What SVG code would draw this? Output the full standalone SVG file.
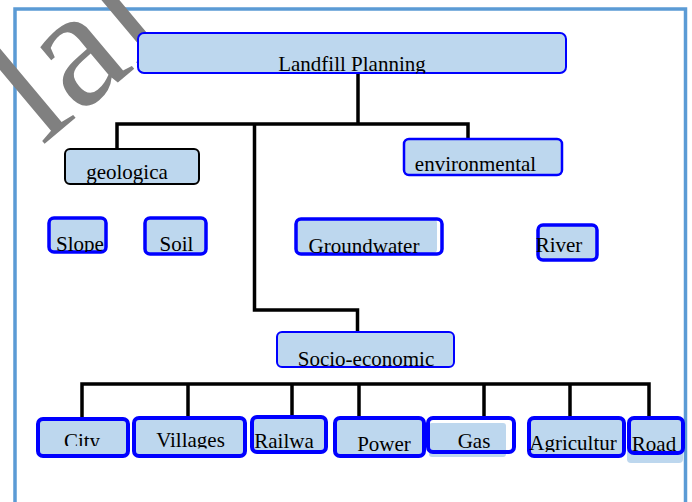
<svg xmlns="http://www.w3.org/2000/svg" width="692" height="502" viewBox="0 0 692 502">
<defs>
<style>
.fill{fill:#bdd7ee;stroke:none}
.bb{fill:none;stroke:#0000ff}
.bk{fill:none;stroke:#000000;stroke-width:2}
.t{font-family:"Liberation Serif","Times New Roman",serif;font-size:21px;fill:#000000;text-anchor:middle}
.con{fill:none;stroke:#000000;stroke-width:3.5;stroke-linejoin:miter}
</style>
<clipPath id="cL"><rect x="130" y="30" width="440" height="43.5"/></clipPath>
<clipPath id="cG"><rect x="60" y="145" width="145" height="40"/></clipPath>
<clipPath id="cE"><rect x="400" y="135" width="170" height="40"/></clipPath>
<clipPath id="cSl"><rect x="40" y="210" width="75" height="42"/></clipPath>
<clipPath id="cSo"><rect x="140" y="210" width="75" height="42"/></clipPath>
<clipPath id="cGw"><rect x="290" y="210" width="160" height="43"/></clipPath>
<clipPath id="cSe"><rect x="270" y="325" width="190" height="41"/></clipPath>
<clipPath id="cCi"><rect x="30" y="410" width="105" height="36"/></clipPath>
<clipPath id="cVi"><rect x="130" y="410" width="120" height="38.5"/></clipPath>
<clipPath id="cRa"><rect x="245" y="433" width="90" height="20"/></clipPath>
<clipPath id="cGa"><rect x="420" y="433" width="100" height="20"/></clipPath>
<clipPath id="cAg"><rect x="520" y="432" width="110" height="20"/></clipPath>
</defs>
<rect width="692" height="502" fill="#ffffff"/>

<!-- frame -->
<path d="M15,502 V9 H685.5 V502" fill="none" stroke="#5b9bd5" stroke-width="3.5"/>

<!-- watermark -->
<g id="watermark">
<text transform="translate(42,146) rotate(-40)" font-family="'Liberation Serif',serif" font-size="170" fill="#808080">lal</text>
</g>

<g id="connectors">
<path class="con" d="M358,73 V123"/>
<path class="con" d="M117,151 V124 H468 V141"/>
<path class="con" d="M254.5,123 V310 H357.5 V333"/>
<path class="con" d="M82,418 V384 H649 V418"/>
<path class="con" d="M188,418 V384"/>
<path class="con" d="M292,416 V384"/>
<path class="con" d="M359,418 V384"/>
<path class="con" d="M484,418 V384"/>
<path class="con" d="M570,418 V384"/>
</g>

<g id="n-landfill">
<rect class="fill" x="138" y="33" width="428" height="40" rx="6"/>
<rect class="bb" x="138" y="33" width="428" height="40" rx="6" stroke-width="2"/>
<text class="t" x="352" y="71" clip-path="url(#cL)">Landfill Planning</text>
</g>

<g id="n-geologica">
<rect class="fill" x="65" y="149" width="134" height="35" rx="5"/>
<rect class="bk" x="65" y="149" width="134" height="35" rx="5"/>
<text class="t" x="127" y="179" clip-path="url(#cG)">geologica</text>
</g>

<g id="n-environmental">
<rect class="fill" x="404" y="139" width="158" height="36" rx="5"/>
<rect class="bb" x="404" y="139" width="158" height="36" rx="5" stroke-width="2.5"/>
<text class="t" x="475.5" y="171" clip-path="url(#cE)">environmental</text>
</g>

<g id="n-slope">
<rect class="fill" x="49" y="218" width="57" height="34" rx="5"/>
<rect class="bb" x="49" y="218" width="57" height="34" rx="5" stroke-width="3.5"/>
<text class="t" x="80" y="251" clip-path="url(#cSl)">Slope</text>
</g>

<g id="n-soil">
<rect class="fill" x="145" y="218" width="61" height="36" rx="5"/>
<rect class="bb" x="145" y="218" width="61" height="36" rx="5" stroke-width="3.5"/>
<text class="t" x="176.5" y="251" clip-path="url(#cSo)">Soil</text>
</g>

<g id="n-groundwater">
<rect class="fill" x="297" y="219" width="140" height="34" rx="4"/>
<rect class="bb" x="296" y="219" width="146" height="35" rx="5" stroke-width="3.5"/>
<text class="t" x="364" y="253" clip-path="url(#cGw)">Groundwater</text>
</g>

<g id="n-river">
<rect class="fill" x="538" y="225" width="59" height="35" rx="5"/>
<rect class="bb" x="538" y="225" width="59" height="35" rx="5" stroke-width="3.5"/>
<text class="t" x="559" y="252">River</text>
</g>

<g id="n-socio">
<rect class="fill" x="277" y="332" width="177" height="35" rx="5"/>
<rect class="bb" x="277" y="332" width="177" height="35" rx="5" stroke-width="2"/>
<text class="t" x="366" y="366" clip-path="url(#cSe)">Socio-economic</text>
</g>

<g id="n-city">
<rect class="fill" x="38" y="419" width="90" height="37" rx="5"/>
<rect class="bb" x="38" y="419" width="90" height="37" rx="5" stroke-width="4"/>
<text class="t" x="82" y="448" clip-path="url(#cCi)">City</text>
</g>

<g id="n-villages">
<rect class="fill" x="134" y="418" width="111" height="38" rx="5"/>
<rect class="bb" x="134" y="418" width="111" height="38" rx="5" stroke-width="4"/>
<text class="t" x="190.5" y="447" clip-path="url(#cVi)">Villages</text>
</g>

<g id="n-railwa">
<rect class="fill" x="252" y="417" width="74" height="35" rx="5"/>
<rect class="bb" x="252" y="417" width="74" height="35" rx="5" stroke-width="4"/>
<text class="t" x="284" y="448" clip-path="url(#cRa)">Railwa</text>
</g>

<g id="n-power">
<rect class="fill" x="335" y="418" width="89" height="38" rx="5"/>
<rect class="bb" x="335" y="418" width="89" height="38" rx="5" stroke-width="4"/>
<text class="t" x="384" y="451">Power</text>
</g>

<g id="n-gas">
<rect class="fill" x="429" y="423" width="77" height="34" rx="3"/>
<rect class="bb" x="428" y="418" width="86" height="34" rx="5" stroke-width="4"/>
<text class="t" x="474" y="448" clip-path="url(#cGa)">Gas</text>
</g>

<g id="n-agricultur">
<rect class="fill" x="529" y="418" width="95" height="38" rx="5"/>
<rect class="bb" x="529" y="418" width="95" height="38" rx="5" stroke-width="4"/>
<text class="t" x="573" y="450" clip-path="url(#cAg)">Agricultur</text>
</g>

<g id="n-road">
<rect class="fill" x="627" y="418" width="56" height="45" rx="4"/>
<rect class="bb" x="629" y="418" width="54" height="35" rx="5" stroke-width="4"/>
<text class="t" x="654" y="451">Road</text>
</g>
</svg>
